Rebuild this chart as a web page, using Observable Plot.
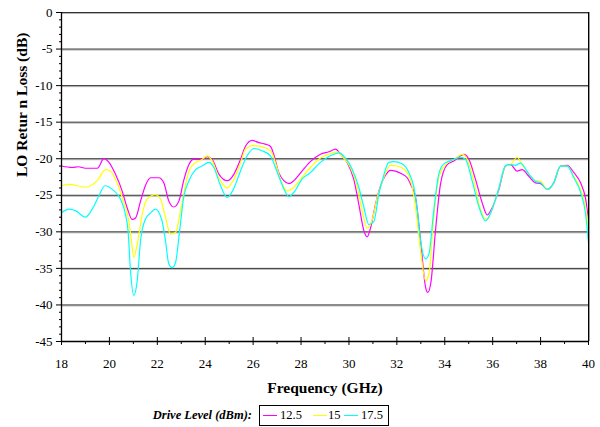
<!DOCTYPE html>
<html><head><meta charset="utf-8">
<script src="https://cdn.jsdelivr.net/npm/d3@7"></script>
<script src="https://cdn.jsdelivr.net/npm/@observablehq/plot@0.6"></script>
<style>
body{margin:0;background:#fff;width:600px;height:427px;overflow:hidden;font-family:'Liberation Serif','Times New Roman',serif;}
#chart svg{display:block;font-family:'Liberation Serif','Times New Roman',serif !important;}
#chart svg text{font-family:'Liberation Serif','Times New Roman',serif !important;}
#legend{position:relative;height:27px;width:600px;font-family:'Liberation Serif','Times New Roman',serif;}
#legend span{position:absolute;top:8px;font-size:12.5px;line-height:14px;white-space:nowrap;color:#000;}
#legend .sw{position:absolute;top:15px;width:14px;height:1.3px;}
#legend .box{position:absolute;left:259px;top:5px;width:130px;height:21px;box-sizing:border-box;border:1px solid #000;}
</style></head><body><div id="chart"></div><div id="legend"></div>
<script>
// Drive level 12.5 dBm
const freq125 = [18.0,18.45,18.7,19.0,19.5,19.77,19.98,20.25,20.53,20.74,20.95,21.09,21.3,21.5,21.72,22.06,22.27,22.48,22.69,22.9,23.1,23.32,23.5,23.87,24.08,24.29,24.57,24.92,25.2,25.47,25.68,25.96,26.24,26.51,26.72,26.86,27.07,27.28,27.49,27.7,28.04,28.39,28.81,29.16,29.44,29.65,29.92,30.2,30.41,30.62,30.76,30.9,31.11,31.32,31.52,31.73,31.94,32.22,32.43,32.6,32.78,32.99,33.2,33.29,33.43,33.61,33.82,34.1,34.38,34.66,34.8,35.01,35.28,35.56,35.77,35.98,36.26,36.54,36.75,37.02,37.23,37.51,37.79,38.0,38.28,38.55,38.83,39.11,39.39,39.67,39.88,40.0];
const db125 = [-21.0,-21.2,-21.1,-21.3,-21.3,-20.0,-20.5,-22.1,-24.4,-26.7,-28.3,-28.1,-25.8,-23.7,-22.6,-22.6,-23.3,-25.8,-26.6,-25.8,-23.0,-20.8,-20.1,-20.1,-19.7,-20.1,-22.1,-23.0,-22.1,-20.1,-18.3,-17.5,-17.8,-18.0,-18.3,-19.4,-21.9,-23.0,-23.4,-23.0,-21.7,-20.4,-19.4,-19.05,-18.7,-19.4,-20.5,-22.8,-26.2,-29.8,-30.7,-29.5,-26.2,-23.7,-22.3,-21.6,-21.7,-22.1,-22.6,-23.7,-25.3,-31.2,-37.6,-38.3,-36.7,-29.9,-23.5,-20.8,-20.3,-19.6,-19.4,-20.1,-22.8,-26.0,-27.7,-26.7,-24.2,-21.0,-20.8,-21.7,-21.5,-22.4,-23.3,-23.4,-24.2,-23.3,-21.0,-20.9,-21.9,-23.3,-25.5,-28.3];
// Drive level 15 dBm
const freq15 = [18.0,18.31,19.0,19.49,19.84,20.05,20.32,20.6,20.81,20.92,21.02,21.16,21.37,21.58,21.92,22.13,22.34,22.55,22.76,22.97,23.18,23.39,23.66,23.87,24.08,24.29,24.57,24.92,25.2,25.47,25.68,25.96,26.3,26.72,26.93,27.14,27.42,27.63,27.98,28.39,28.81,29.23,29.51,29.78,30.06,30.34,30.55,30.76,30.97,31.18,31.45,31.73,32.01,32.29,32.57,32.78,32.99,33.2,33.34,33.54,33.75,34.03,34.38,34.73,34.94,35.21,35.49,35.74,35.98,36.26,36.54,36.75,37.02,37.23,37.51,37.79,38.0,38.28,38.55,38.83,39.11,39.39,39.67,39.88,40.0];
const db15 = [-23.7,-23.5,-23.9,-23.0,-21.5,-21.7,-23.3,-26.0,-28.5,-31.2,-33.5,-31.7,-27.6,-25.5,-24.9,-25.5,-28.0,-30.3,-30.1,-27.1,-23.5,-21.2,-20.4,-20.1,-19.6,-20.3,-22.6,-24.0,-22.8,-20.6,-18.7,-18.2,-18.3,-18.9,-20.5,-22.8,-24.4,-24.1,-22.8,-21.2,-19.9,-19.3,-19.05,-19.9,-21.2,-23.7,-27.1,-29.5,-28.4,-25.3,-22.6,-20.9,-21.0,-21.4,-22.9,-26.7,-32.6,-36.7,-35.8,-28.0,-22.6,-20.8,-20.1,-19.4,-20.1,-23.0,-26.9,-28.3,-26.9,-24.0,-21.0,-20.8,-19.8,-20.8,-22.1,-23.0,-23.1,-24.2,-23.3,-21.0,-21.0,-22.4,-24.2,-26.7,-29.9];
// Drive level 17.5 dBm
const freq175 = [18.0,18.31,18.58,19.0,19.28,19.56,19.81,20.19,20.46,20.67,20.78,20.88,21.02,21.16,21.3,21.5,21.72,21.92,22.18,22.34,22.48,22.62,22.76,22.93,23.1,23.32,23.6,23.87,24.15,24.36,24.64,24.92,25.2,25.47,25.75,26.03,26.37,26.72,26.99,27.28,27.49,27.7,28.04,28.39,28.81,29.23,29.58,29.85,30.13,30.41,30.62,30.83,31.04,31.25,31.45,31.66,31.87,32.22,32.5,32.71,32.85,32.99,33.2,33.34,33.54,33.75,33.96,34.38,34.66,34.87,35.14,35.42,35.7,35.98,36.26,36.54,36.75,36.95,37.16,37.51,37.79,38.0,38.28,38.55,38.83,39.11,39.39,39.67,39.88,40.0];
const db175 = [-27.4,-26.9,-27.1,-28.0,-26.9,-25.1,-23.7,-24.4,-25.5,-27.6,-29.9,-35.3,-38.7,-36.7,-31.2,-28.3,-27.4,-26.9,-28.3,-31.2,-34.4,-34.9,-34.2,-29.9,-25.3,-23.0,-21.5,-21.0,-20.5,-21.2,-23.7,-25.3,-24.0,-21.7,-19.6,-18.6,-18.9,-19.6,-21.7,-24.1,-25.2,-24.6,-22.8,-21.9,-20.5,-19.6,-19.2,-19.9,-21.4,-23.9,-26.6,-29.0,-28.6,-24.8,-22.3,-20.5,-20.4,-20.7,-21.9,-23.9,-27.0,-31.2,-33.7,-33.0,-27.1,-22.1,-20.7,-20.1,-19.8,-20.1,-23.0,-26.5,-28.5,-26.9,-24.0,-20.9,-20.8,-20.9,-20.6,-22.1,-23.1,-23.3,-24.2,-23.3,-21.0,-21.0,-22.6,-24.6,-27.6,-31.5];

const seriesLabels = ["12.5", "15", "17.5"];
const seriesColors = ["#ff00ff", "#ffff00", "#00ffff"];
const xMajor = [18,20,22,24,26,28,30,32,34,36,38,40];
const xMinor = [19,21,23,25,27,29,31,33,35,37,39];
const yMajor = [0,-5,-10,-15,-20,-25,-30,-35,-40,-45];
const yGrid = [0,-5,-10,-15,-20,-25,-30,-35,-40];
const yMinor = d3.range(-45, 1, 1).filter(v => v % 5 !== 0);
const xTitle = "Frequency (GHz)";
const yTitle = "LO Retur n Loss (dB)";
const legendTitle = "Drive Level (dBm):";
const FONT = "'Liberation Serif', 'Times New Roman', serif";

const freqs = [freq125, freq15, freq175];
const dbs = [db125, db15, db175];
const data = [];
seriesLabels.forEach((s, i) => freqs[i].forEach((f, j) => data.push({series: s, f, db: dbs[i][j]})));

const chart = Plot.plot({
  width: 600, height: 400,
  marginLeft: 61, marginRight: 12, marginTop: 12, marginBottom: 59,
  style: {fontFamily: FONT, fontSize: "13px", color: "#000", background: "#fff"},
  x: {domain: [18, 40]},
  y: {domain: [-45, 0]},
  color: {domain: seriesLabels, range: seriesColors},
  marks: [
    Plot.ruleY(yGrid, {y: d => d, stroke: "#b4b4b4", dy: 1, strokeOpacity: 1}),
    Plot.ruleY(yGrid, {y: d => d, stroke: "#333", strokeOpacity: 1}),
    Plot.line(data, {x: "f", y: "db", z: "series", stroke: "series", strokeWidth: 1.2, curve: "monotone-x"}),
    Plot.ruleX([40], {x: d => d, stroke: "#999", dx: 1, strokeOpacity: 1}),
    Plot.ruleX([40], {x: d => d, stroke: "#000", strokeOpacity: 1}),
    Plot.ruleX([18], {x: d => d, stroke: "#000", strokeWidth: 1.3, strokeOpacity: 1}),
    Plot.ruleY([-45], {y: d => d, stroke: "#000", strokeWidth: 1.3, strokeOpacity: 1}),
    Plot.ruleY(yMajor, {y: d => d, x1: 18, x2: 18, insetLeft: -5, stroke: "#000", strokeOpacity: 1}),
    Plot.ruleY(yMinor, {y: d => d, x1: 18, x2: 18, insetLeft: -2, stroke: "#000", strokeOpacity: 1}),
    Plot.ruleX(xMajor, {x: d => d, y1: -45, y2: -45, insetTop: -4, insetBottom: -4, stroke: "#000", strokeOpacity: 1}),
    Plot.ruleX(xMinor, {x: d => d, y1: -45, y2: -45, insetTop: 0, insetBottom: -3, stroke: "#000", strokeOpacity: 1}),
    Plot.axisY({ticks: yMajor, tickSize: 0, tickPadding: 9, label: null, tickFormat: d => String(d), fontSize: 13, fontFamily: FONT}),
    Plot.axisX({ticks: xMajor, tickSize: 0, tickPadding: 17, label: null, tickFormat: d => String(d), fontSize: 13, fontFamily: FONT}),
    Plot.text([xTitle], {text: d => d, frameAnchor: "bottom", dy: 47, fontWeight: "bold", fontSize: 15.5, lineAnchor: "middle", fontFamily: FONT}),
    Plot.text([yTitle], {text: d => d, frameAnchor: "left", dx: -39, rotate: -90, fontWeight: "bold", fontSize: 15.5, lineAnchor: "middle", fontFamily: FONT})
  ]
});
document.getElementById("chart").append(chart);

// Legend below the SVG
const lg = document.getElementById("legend");
const title = document.createElement("span");
title.textContent = legendTitle;
title.style.right = (600 - 252) + "px";
title.style.fontWeight = "bold";
title.style.fontStyle = "italic";
lg.append(title);
const box = document.createElement("div");
box.className = "box";
lg.append(box);
const swLeft = [263, 313, 344];
const txtLeft = [280, 328, 361];
seriesLabels.forEach((s, i) => {
  const sw = document.createElement("div");
  sw.className = "sw";
  sw.style.left = swLeft[i] + "px";
  sw.style.background = seriesColors[i];
  lg.append(sw);
  const t = document.createElement("span");
  t.textContent = s;
  t.style.left = txtLeft[i] + "px";
  lg.append(t);
});
</script>
</body></html>
